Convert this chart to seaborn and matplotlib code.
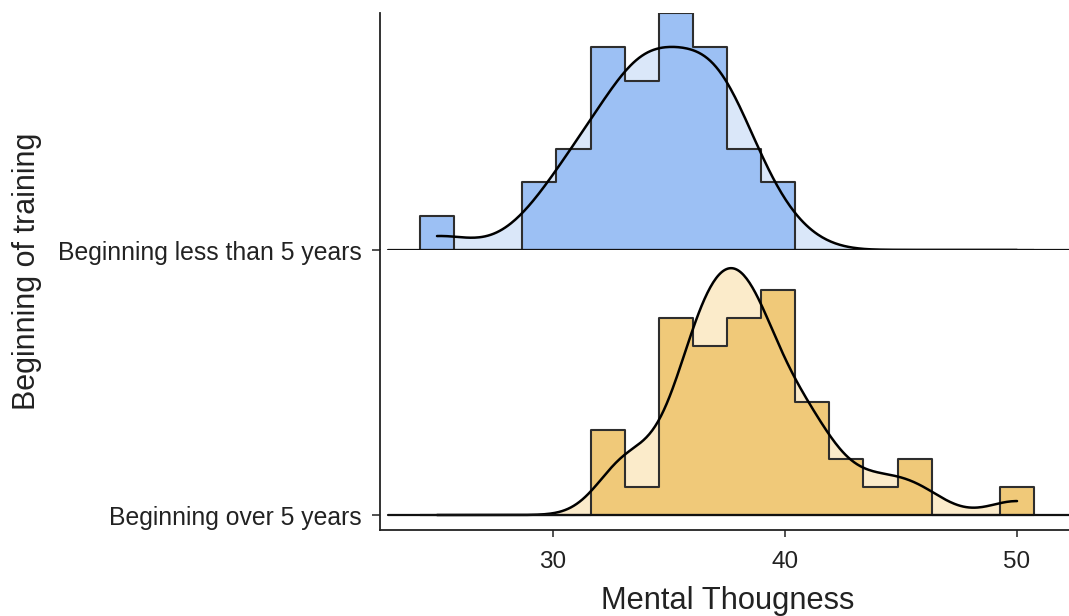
import matplotlib
matplotlib.use("Agg")
import matplotlib.pyplot as plt
import seaborn as sns
import pandas as pd

# ---- data ----
groups = ["Beginning less than 5 years", "Beginning over 5 years"]
scores_less5 = [25, 29, 30, 31, 31, 31, 32, 32, 33, 33, 33, 33,
                34, 34, 34, 34, 34, 35, 35, 35, 35, 36, 36, 36,
                37, 37, 37, 37, 37, 37, 38, 38, 38, 39, 40]
scores_over5 = [33, 33, 33, 34, 35, 36, 36, 36, 36, 36, 36,
                37, 37, 37, 37, 37, 37, 38, 38, 38, 38, 38, 38, 38,
                39, 39, 39, 39, 39, 39, 40, 40, 41, 41, 41, 41,
                42, 43, 44, 45, 46, 50]
fill_dark = ["#9CC0F4", "#F0C979"]
fill_light = ["#DAE7F9", "#FBEBCA"]
bw_adj = [0.95, 0.72]
x_ticks = [30, 40, 50]

df = pd.DataFrame({
    "score": scores_less5 + scores_over5,
    "group": [groups[0]] * len(scores_less5) + [groups[1]] * len(scores_over5),
})

sns.set_style("ticks")
plt.rcParams["font.family"] = ["Liberation Sans", "DejaVu Sans"]
plt.rcParams["text.color"] = "#222222"

W, H = 1069, 616
fig = plt.figure(figsize=(W / 100, H / 100), dpi=100)

lo, hi = df["score"].min(), df["score"].max()
nbins = 18
bw = (hi - lo) / (nbins - 1)
binrange = (lo - bw / 2, hi + bw / 2)

px_per_dens = 1740.0
x0, x1 = 22.543, 52.24
# axes rects: top ridge 13..250 px, bottom ridge 250..530 px (baseline at 515)
rects = [
    [380 / W, 1 - 250 / H, 689 / W, 237 / H],
    [380 / W, 1 - 530 / H, 689 / W, 280 / H],
]
ylims = [(0, 237 / px_per_dens), (-15 / px_per_dens, 265 / px_per_dens)]

for i, g in enumerate(groups):
    ax = fig.add_axes(rects[i])
    sub = df[df["group"] == g]
    sns.kdeplot(data=sub, x="score", ax=ax, fill=True, color=fill_light[i],
                alpha=1, linewidth=0, bw_adjust=bw_adj[i], cut=20,
                clip=(lo, hi), gridsize=400)
    sns.histplot(data=sub, x="score", ax=ax, stat="density", bins=nbins,
                 binrange=binrange, element="step", fill=True,
                 facecolor=fill_dark[i], edgecolor="#2e2e2e", alpha=1,
                 linewidth=1.5)
    sns.kdeplot(data=sub, x="score", ax=ax, fill=False, color="black",
                linewidth=1.8, bw_adjust=bw_adj[i], cut=20, clip=(lo, hi),
                gridsize=400)
    ax.axhline(0, xmin=8 / 689, xmax=1, color="#111111", lw=1.6,
               clip_on=False, zorder=5)
    ax.set_xlim(x0, x1)
    ax.set_ylim(*ylims[i])
    ax.set_yticks([0])
    ax.set_yticklabels([g], fontsize=17.8, color="#222222")
    ax.tick_params(axis="y", length=5.8, width=1.2, color="#333333", pad=7.2)
    ax.set_xlabel("")
    ax.set_ylabel("")
    for s in ["top", "right"]:
        ax.spines[s].set_visible(False)
    ax.spines["left"].set_color("#222222")
    ax.spines["left"].set_linewidth(1.3)
    if i == 0:
        ax.spines["bottom"].set_visible(False)
        ax.set_xticks([])
    else:
        ax.spines["bottom"].set_color("#222222")
        ax.spines["bottom"].set_linewidth(1.3)
        ax.set_xticks(x_ticks)
        ax.set_xticklabels([str(t) for t in x_ticks], fontsize=17.5,
                           color="#222222")
        ax.tick_params(axis="x", length=5, width=1.2, color="#333333", pad=10)

fig.text(728 / W, 1 - 609 / H, "Mental Thougness", ha="center",
         va="baseline", fontsize=22.2, color="#222222")
fig.text(27 / W, 1 - 271 / H, "Beginning of training", ha="center",
         va="center", rotation=90, fontsize=22, color="#222222")

fig.savefig("out.png", dpi=100)
